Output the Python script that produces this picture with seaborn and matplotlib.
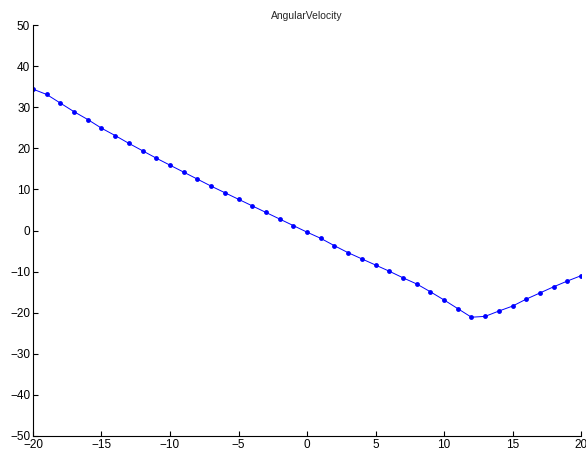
import numpy as np
import pandas as pd
import matplotlib
matplotlib.use("Agg")
import matplotlib.pyplot as plt
import seaborn as sns


# dados

TEMPO = list(range(-20, 21))
VELOCIDADE = [
    34.4, 33.1, 31.0, 28.9, 27.0, 24.9, 23.1, 21.2, 19.4, 17.6,
    15.9, 14.2, 12.5, 10.8, 9.2, 7.6, 6.0, 4.4, 2.8, 1.2,
    -0.4, -1.9, -3.7, -5.4, -6.9, -8.4, -9.9, -11.5, -13.0, -14.9,
    -16.9, -19.0, -21.1, -20.9, -19.6, -18.4, -16.7, -15.2, -13.7, -12.3,
    -11.0,
]
TICKS_X = [-20, -15, -10, -5, 0, 5, 10, 15, 20]
TICKS_Y = [-50, -40, -30, -20, -10, 0, 10, 20, 30, 40, 50]

dados = pd.DataFrame({"t": TEMPO, "w": VELOCIDADE})

sns.set_style("ticks")
plt.rcParams["font.family"] = ["Liberation Sans", "DejaVu Sans"]
plt.rcParams["xtick.direction"] = "in"
plt.rcParams["ytick.direction"] = "in"

fig = plt.figure(figsize=(5.86, 4.55), dpi=100)
ax = fig.add_axes([0.0563, 0.0418, 0.9352, 0.9032])

sns.lineplot(
    data=dados, x="t", y="w", ax=ax,
    color="#0000ff", linewidth=0.7,
    marker="o", markersize=3.5, markeredgewidth=0,
)

ax.set_xlim(-20, 20)
ax.set_ylim(-50, 50)
ax.set_xticks(TICKS_X)
ax.set_yticks(TICKS_Y)
ax.set_xlabel("")
ax.set_ylabel("")
ax.set_title("AngularVelocity", fontsize=7.5, pad=4)
ax.tick_params(labelsize=8.5, length=3.5, width=0.8, colors="black", pad=2)
for lado in ["top", "right"]:
    ax.spines[lado].set_visible(False)
for lado in ["left", "bottom"]:
    ax.spines[lado].set_color("black")
    ax.spines[lado].set_linewidth(0.8)

fig.savefig("out.png", dpi=100)
